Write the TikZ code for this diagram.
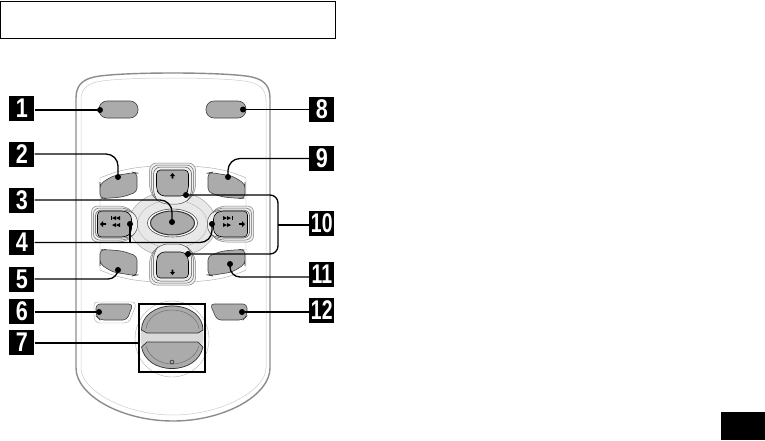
\documentclass[tikz,border=0pt]{standalone}
\usepackage{fontspec}
\setmainfont{Liberation Sans}
\usetikzlibrary{calc}
\tikzset{
  badge/.style={fill=black,text=white,minimum width=25pt,minimum height=25pt,inner sep=0pt,font=\fontsize{27}{27}\selectfont\bfseries},
  leader/.style={black,line width=1.3pt},
  leaderdot/.style={circle,fill=black,inner sep=0pt,minimum size=6pt},
  btn/.style={fill=btngray,draw=black!75,line width=0.6pt,rounded corners=4pt},
  halo/.style={draw=black!35,line width=0.4pt,fill=white},
}
\definecolor{btngray}{gray}{0.67}
\newcommand{\uparrowmark}[2]{\fill (#1-2.5,#2) -- (#1,#2-3) -- (#1+2.5,#2) -- (#1+0.8,#2) -- (#1+0.8,#2+2.5) -- (#1-0.8,#2+2.5) -- (#1-0.8,#2) -- cycle;}
\newcommand{\downarrowmark}[2]{\fill (#1-2.5,#2) -- (#1,#2+3) -- (#1+2.5,#2) -- (#1+0.8,#2) -- (#1+0.8,#2-2.5) -- (#1-0.8,#2-2.5) -- (#1-0.8,#2) -- cycle;}
\newcommand{\onedigit}[1]{\scalebox{0.8}[1]{#1}}
\newcommand{\twodigit}[1]{\scalebox{0.72}[1]{#1}}
\begin{document}
\begin{tikzpicture}[x=1pt,y=-1pt]
  \useasboundingbox (0,0) rectangle (765,440);
  % Heading box and page tab
  \draw[line width=1pt] (0.5,1) rectangle (335,38);
  \fill[black] (721,412) rectangle (765,440);
  % Remote body
  \draw[draw=black!45,line width=1.4pt,fill=white] (76,98) .. controls (76,84) and (84,78) .. (100,76)
    .. controls (130,72) and (215,72) .. (246,76)
    .. controls (262,78) and (270,84) .. (270,98)
    -- (270,368) .. controls (270,395) and (225,421) .. (173,421)
    .. controls (121,421) and (76,395) .. (76,368) -- cycle;
  \draw[draw=black!20,line width=0.5pt] (81,100) .. controls (81,88) and (88,83) .. (102,81)
    .. controls (130,77) and (215,77) .. (244,81)
    .. controls (258,83) and (266,88) .. (266,100)
    -- (266,368) .. controls (266,390) and (222,415) .. (173,415)
    .. controls (124,415) and (81,390) .. (81,368) -- cycle;
  % Top pills
  \draw[btn,rounded corners=8pt] (99,101) rectangle (138,118);
  \draw[btn,rounded corners=8pt] (206,101) rectangle (246,118);
  % Cross pad surround
  \draw[halo] (100,178) .. controls (125,167) and (145,166) .. (172,166)
    .. controls (200,166) and (222,167) .. (246,178) -- (246,270)
    .. controls (222,281) and (200,282) .. (172,282)
    .. controls (145,282) and (125,281) .. (100,270) -- cycle;
  \draw[draw=black!40,line width=0.4pt,fill=black!9] (172.5,224) ellipse (44 and 33);
  \draw[draw=black!30,line width=0.4pt] (172.5,224) ellipse (35 and 24);
  % Corner keys
  \foreach \sx/\sy in {1/1,-1/1,1/-1,-1/-1}{
    \begin{scope}[shift={(172.5,224)},xscale=\sx,yscale=\sy]
      \draw[btn] (-72.5,-38) -- (-72.5,-26) -- (-68,-25.5) -- (-50,-27) -- (-35.5,-32) -- (-35.5,-51) -- (-38,-51.5) -- (-60,-48) -- (-72.5,-40) -- cycle;
    \end{scope}
  }
  % Arrow keys, up and down then left and right
  \foreach \r in {0,180}{
    \begin{scope}[shift={(172.5,224)},rotate=\r]
      \foreach \d/\g in {0/50,2/60,4/70}{
        \draw[draw=black!\g,line width=0.5pt,fill=black!6,rounded corners=7pt] (-23+\d,-61+\d) -- (23-\d,-61+\d) -- (23-\d,-32+\d) -- (16-\d,-24+\d) -- (-16+\d,-24+\d) -- (-23+\d,-32+\d) -- cycle;
      }
      \draw[btn,draw=black,fill=btngray] (-16,-54) -- (16,-54) -- (16,-34) -- (12,-28) -- (-12,-28) -- (-16,-34) -- cycle;
    \end{scope}
  }
  \foreach \r in {-90,90}{
    \begin{scope}[shift={(172.5,224)},rotate=\r]
      \foreach \d/\g in {0/50,2/60,4/70}{
        \draw[draw=black!\g,line width=0.5pt,fill=black!6,rounded corners=6pt] (-18+\d,-81+\d) -- (18-\d,-81+\d) -- (18-\d,-48+\d) -- (12-\d,-39+\d) -- (-12+\d,-39+\d) -- (-18+\d,-48+\d) -- cycle;
      }
      \draw[btn,draw=black,fill=btngray] (-13,-75) -- (13,-75) -- (13,-47) -- (9,-41) -- (-9,-41) -- (-13,-47) -- cycle;
    \end{scope}
  }
  % Centre key
  \draw[draw=black!70,line width=0.6pt,fill=white] (172.5,223) ellipse (25 and 14);
  \draw[draw=black!80,line width=1pt,fill=btngray] (172.5,223) ellipse (22 and 12);
  % Key marks
  \uparrowmark{172.5}{176}
  \downarrowmark{172.5}{272}
  \fill (100,224) -- (103,221) -- (103,223.2) -- (106,223.2) -- (106,224.8) -- (103,224.8) -- (103,227) -- cycle;
  \fill (245,224) -- (242,221) -- (242,223.2) -- (239,223.2) -- (239,224.8) -- (242,224.8) -- (242,227) -- cycle;
  \foreach \y in {218,225}{
    \foreach \x in {112,116}{\fill (\x,\y) -- (\x+4,\y-2) -- (\x+4,\y+2) -- cycle;}
    \foreach \x in {223,227}{\fill (\x+4,\y) -- (\x,\y-2) -- (\x,\y+2) -- cycle;}
  }
  \draw[line width=0.7pt] (111.5,216) -- (111.5,220) (232.5,216) -- (232.5,220);
  % Lower keys
  \draw[halo] (94,306) .. controls (94,302) and (96,302) .. (100,302) -- (132,302) .. controls (136,302) and (136,306) .. (134,310) -- (130,320) .. controls (128,323) and (124,323) .. (120,323) -- (100,323) .. controls (96,323) and (94,320) .. (94,316) -- cycle;
  \draw[btn] (96,304) -- (133,304) -- (127,320) -- (100,320) -- (96,316) -- cycle;
  \draw[btn] (210,304) -- (247,304) -- (247,316) -- (243,320) -- (217,320) -- cycle;
  % Volume disc
  \draw[draw=black!30,line width=0.4pt,fill=white] (172,339) ellipse (37 and 38);
  \fill[black!15] (172,337) ellipse (31.5 and 32);
  \draw[draw=black!80,line width=0.7pt,fill=btngray] (141.5,330) .. controls (141.5,316) and (155,306) .. (172,306)
    .. controls (190,306) and (203,316) .. (203,330) -- (198,333) -- (147,333) -- cycle;
  \draw[draw=black!60,line width=0.4pt] (146,329) .. controls (147,318) and (158,310) .. (172,310)
    .. controls (186,310) and (198,318) .. (199,329);
  \draw[draw=black!80,line width=0.7pt,fill=btngray] (141.5,347) -- (147,342) -- (198,342) -- (203,347)
    .. controls (200,360) and (188,368.5) .. (172,368.5)
    .. controls (156,368.5) and (144,360) .. (141.5,347) -- cycle;
  \draw[draw=black!60,line width=0.4pt] (146,346) .. controls (149,357) and (160,364) .. (172,364)
    .. controls (184,364) and (196,357) .. (199,346);
  \draw[line width=0.4pt] (172,362) circle (2);
  % Number badges
  \foreach \name/\bx/\by/\txt in {b1/21.8/108.5/\onedigit{1},b2/21.8/154/\onedigit{2},b3/21.8/200/\onedigit{3},b4/21.8/242.5/\onedigit{4},b5/21.8/279/\onedigit{5},b6/21.8/311.5/\onedigit{6},b7/21.8/342.5/\onedigit{7},b8/321.8/109.5/\onedigit{8},b9/321.8/158.5/\onedigit{9},b10/321.8/223/\twodigit{10},b11/321.8/274.5/\twodigit{11},b12/321.8/310.5/\twodigit{12}}{
    \node[badge] (\name) at (\bx,\by) {\txt};
  }
  % Leader ends
  \foreach \name/\bx/\by in {d1/100/110,d2/118/177,d3/172/222,d4a/130/224,d4b/212/224,d5/118/270,d6/99/312,d8/243/109.5,d9/228/177,d10a/186/195,d10b/188/254,d11/230/264,d12/242/312}{
    \node[leaderdot] (\name) at (\bx,\by) {};
  }
  \coordinate (d7) at (139,343);
  \draw[line width=1.5pt] (139,304) rectangle (205,372);
  % Leaders
  \draw[leader] (b1.east|-d1) -- (d1);
  \draw[leader] (b8.west|-d8) -- (d8);
  \draw[leader] (b6.east|-d6) -- (d6);
  \draw[leader] (b12.west|-d12) -- (d12);
  \draw[leader] (b7.east|-d7) -- (d7);
  \draw[leader,rounded corners=12pt] (b2) -| (d2.center);
  \draw[leader,rounded corners=12pt] (b9) -| (d9.center);
  \draw[leader,rounded corners=12pt] (b3) -| (d3.center);
  \draw[leader,rounded corners=10pt] (b5) -| (d5.center);
  \draw[leader,rounded corners=10pt] (b11.west|-0,277) -| (d11.center);
  \draw[leader] (d4a.center) |- (b4);
  \draw[leader,rounded corners=12pt] (b4) -| (d4b.center);
  \coordinate (bend10) at (278,225);
  \draw[leader,rounded corners=8pt] (d10a.center) -| (bend10) |- (d10b.center);
  \draw[leader] (bend10) -- (b10.west|-bend10);
\end{tikzpicture}
\end{document}
